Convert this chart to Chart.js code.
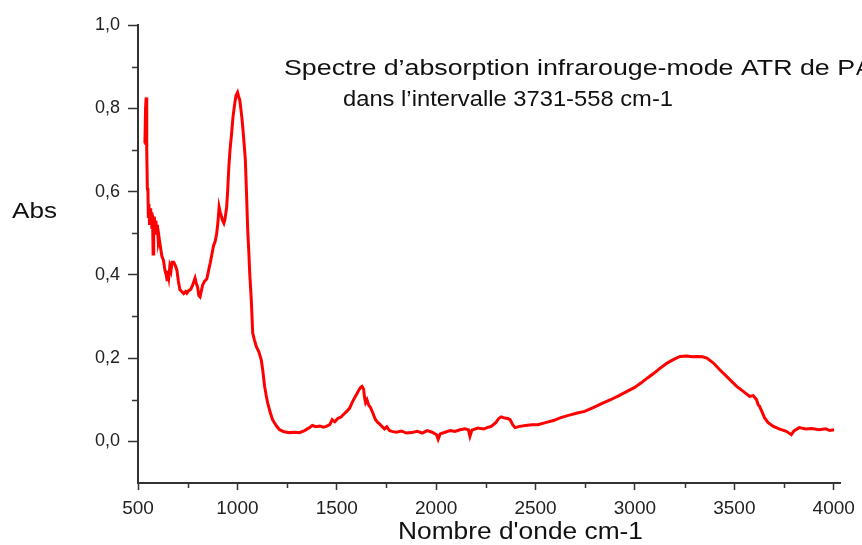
<!DOCTYPE html>
<html lang="fr">
<head>
  <meta charset="UTF-8" />
  <title>Spectre IR ATR</title>
  <script src="https://cdn.jsdelivr.net/npm/chart.js"></script>
  <style>
    body { margin: 0; background: #fff; }
    #cadre { width: 862px; height: 545px; }
  </style>
</head>
<body>
  <div id="cadre">
    <canvas id="graficoIR" width="862" height="545"></canvas>
  </div>

<script>
  // nombre d'onde (cm-1) et absorbance
  const nombreOnde = [
    531, 535, 538, 541, 543, 545, 547, 550, 552, 555, 558, 561, 564, 567, 570, 573, 576, 579, 582, 586,
    590, 594, 598, 602, 606, 612, 620, 628, 636, 642, 646, 650, 655, 660, 666, 671, 680, 690, 696, 703,
    711, 720, 730, 740, 746, 755, 765, 775, 782, 787, 793, 800, 806, 812, 818, 825, 835, 846, 855, 864,
    872, 880, 888, 896, 902, 908, 914, 920, 926, 932, 938, 946, 951, 957, 963, 971, 978, 987, 993, 1001,
    1008, 1012, 1017, 1022, 1027, 1033, 1040, 1046, 1052, 1058, 1062, 1070, 1077, 1085, 1095, 1108, 1120, 1128, 1137, 1145,
    1152, 1165, 1177, 1195, 1212, 1235, 1262, 1290, 1312, 1335, 1352, 1365, 1377, 1395, 1415, 1432, 1447, 1465, 1477, 1490,
    1505, 1520, 1535, 1550, 1565, 1577, 1590, 1602, 1612, 1620, 1627, 1635, 1640, 1645, 1652, 1660, 1670, 1680, 1688, 1695,
    1705, 1715, 1727, 1740, 1752, 1765, 1777, 1800, 1825, 1850, 1877, 1905, 1930, 1955, 1980, 2002, 2010, 2020, 2045, 2070,
    2095, 2120, 2145, 2162, 2170, 2180, 2210, 2240, 2262, 2277, 2300, 2315, 2327, 2345, 2360, 2372, 2385, 2397, 2420, 2450,
    2480, 2512, 2550, 2590, 2627, 2670, 2710, 2747, 2790, 2830, 2877, 2920, 2960, 2997, 3030, 3065, 3097, 3130, 3162, 3195,
    3227, 3260, 3290, 3312, 3340, 3362, 3395, 3427, 3470, 3512, 3545, 3577, 3595, 3612, 3620, 3627, 3640, 3652, 3670, 3697,
    3725, 3762, 3787, 3800, 3827, 3860, 3890, 3927, 3960, 3980, 4002
  ];
  const absorbance = [
    0.716, 0.72, 0.80, 0.826, 0.80, 0.70, 0.608, 0.60, 0.54, 0.57, 0.52, 0.56, 0.53, 0.55, 0.51, 0.545, 0.45, 0.53, 0.54, 0.50,
    0.53, 0.50, 0.52, 0.48, 0.49, 0.47, 0.445, 0.435, 0.41, 0.40, 0.388, 0.41, 0.395, 0.42, 0.41, 0.43, 0.43, 0.42, 0.41, 0.385,
    0.364, 0.36, 0.355, 0.36, 0.356, 0.362, 0.365, 0.375, 0.385, 0.392, 0.38, 0.37, 0.35, 0.347, 0.36, 0.375, 0.385, 0.39, 0.41, 0.43,
    0.45, 0.47, 0.48, 0.50, 0.525, 0.563, 0.55, 0.54, 0.53, 0.524, 0.535, 0.563, 0.60, 0.659, 0.70, 0.74, 0.78, 0.812, 0.83, 0.838,
    0.825, 0.82, 0.80, 0.78, 0.755, 0.72, 0.676, 0.596, 0.507, 0.45, 0.404, 0.34, 0.26, 0.245, 0.228, 0.215, 0.196, 0.17, 0.132, 0.11,
    0.093, 0.07, 0.052, 0.038, 0.028, 0.023, 0.021, 0.022, 0.021, 0.025, 0.03, 0.034, 0.038, 0.035, 0.037, 0.034, 0.036, 0.04, 0.052, 0.047,
    0.055, 0.058, 0.065, 0.072, 0.08, 0.093, 0.105, 0.115, 0.124, 0.13, 0.132, 0.125, 0.105, 0.093, 0.10, 0.088, 0.081, 0.07, 0.06, 0.052,
    0.046, 0.042, 0.036, 0.03, 0.035, 0.026, 0.024, 0.022, 0.025, 0.02, 0.021, 0.024, 0.02, 0.026, 0.022, 0.016, 0.005, 0.018, 0.022, 0.026,
    0.024, 0.028, 0.03, 0.028, 0.012, 0.027, 0.032, 0.03, 0.034, 0.036, 0.045, 0.055, 0.059, 0.056, 0.055, 0.052, 0.04, 0.033, 0.036, 0.038,
    0.04, 0.04, 0.045, 0.05, 0.057, 0.063, 0.068, 0.072, 0.081, 0.09, 0.10, 0.11, 0.12, 0.129, 0.14, 0.153, 0.164, 0.177, 0.188, 0.197,
    0.204, 0.205, 0.203, 0.204, 0.203, 0.20, 0.188, 0.172, 0.152, 0.132, 0.12, 0.108, 0.11, 0.10, 0.088, 0.084, 0.07, 0.057, 0.045, 0.036,
    0.03, 0.024, 0.016, 0.025, 0.033, 0.03, 0.031, 0.028, 0.03, 0.026, 0.028
  ];

  // graduations
  const ticksX = [500, 1000, 1500, 2000, 2500, 3000, 3500, 4000];
  const ticksXmineurs = [750, 1250, 1750, 2250, 2750, 3250, 3750];
  const ticksY = [0, 0.2, 0.4, 0.6, 0.8, 1.0];
  const ticksYmineurs = [0.1, 0.3, 0.5, 0.7, 0.9];

  const corAxe = '#333333';

  // texte étiré horizontalement pour tenir dans une largeur donnée
  function texteAjuste(ctx, texte, x, y, largeur) {
    const w = ctx.measureText(texte).width;
    ctx.save();
    ctx.translate(x, y);
    ctx.scale(largeur / w, 1);
    ctx.fillText(texte, 0, 0);
    ctx.restore();
  }

  const pluginTextes = {
    id: 'textes',
    afterDraw(chart) {
      const ctx = chart.ctx;
      const sx = chart.scales.x;
      const sy = chart.scales.y;

      // petites graduations
      ctx.save();
      ctx.strokeStyle = corAxe;
      ctx.lineWidth = 1.5;
      ctx.beginPath();
      ticksXmineurs.forEach(v => {
        const px = Math.round(sx.getPixelForValue(v)) + 0.5;
        ctx.moveTo(px, sy.bottom);
        ctx.lineTo(px, sy.bottom + 5);
      });
      ticksYmineurs.forEach(v => {
        const py = Math.round(sy.getPixelForValue(v)) + 0.5;
        ctx.moveTo(sx.left, py);
        ctx.lineTo(sx.left - 6, py);
      });
      ctx.stroke();
      ctx.restore();

      ctx.save();
      ctx.fillStyle = '#111';
      ctx.textBaseline = 'alphabetic';
      ctx.textAlign = 'left';
      ctx.font = '22px "Liberation Sans", Arial, sans-serif';
      texteAjuste(ctx, 'Spectre d\u2019absorption infrarouge-mode ATR de P', 284, 75, 571);
      // la suite du titre déborde du cadre comme sur l'original
      ctx.fillText('A', 284 + 571 + 1, 75);
      texteAjuste(ctx, 'dans l\u2019intervalle 3731-558 cm-1', 343, 106, 330);
      texteAjuste(ctx, 'Abs', 12, 218, 45);
      ctx.font = '23px "Liberation Sans", Arial, sans-serif';
      texteAjuste(ctx, "Nombre d'onde cm-1", 398, 539, 245);
      ctx.restore();
    }
  };

  const pontos = nombreOnde.map((v, i) => ({ x: v, y: absorbance[i] }));

  const config = {
    type: 'line',
    data: {
      datasets: [{
        label: 'Abs',
        data: pontos,
        borderColor: '#ff0000',
        borderWidth: 3,
        pointRadius: 0,
        fill: false,
        tension: 0
      }]
    },
    options: {
      responsive: false,
      animation: false,
      layout: { padding: { top: 25, right: 17, left: 0, bottom: 0 } },
      plugins: {
        legend: { display: false },
        tooltip: { enabled: false },
        title: { display: false }
      },
      scales: {
        x: {
          type: 'linear',
          min: 500,
          max: 4036,
          afterBuildTicks: s => { s.ticks = ticksX.map(v => ({ value: v })); },
          afterFit: s => { s.height = 62; },
          grid: { drawOnChartArea: false, drawTicks: true, tickLength: 7, tickColor: corAxe, tickWidth: 1.5 },
          border: { display: true, color: corAxe, width: 2 },
          ticks: {
            color: '#222',
            padding: 7,
            maxRotation: 0,
            font: { family: '"Liberation Sans", Arial, sans-serif', size: 19 },
            callback: v => String(v)
          }
        },
        y: {
          min: -0.1,
          max: 1.0,
          afterBuildTicks: s => { s.ticks = ticksY.map(v => ({ value: v })); },
          afterFit: s => { s.width = 138; },
          grid: { drawOnChartArea: false, drawTicks: true, tickLength: 10, tickColor: corAxe, tickWidth: 1.5 },
          border: { display: true, color: corAxe, width: 2 },
          ticks: {
            color: '#222',
            padding: 8,
            font: { family: '"Liberation Sans", Arial, sans-serif', size: 18 },
            callback: v => v.toFixed(1).replace('.', ',')
          }
        }
      }
    },
    plugins: [pluginTextes]
  };

  const ctx = document.getElementById('graficoIR').getContext('2d');
  new Chart(ctx, config);
</script>
</body>
</html>
